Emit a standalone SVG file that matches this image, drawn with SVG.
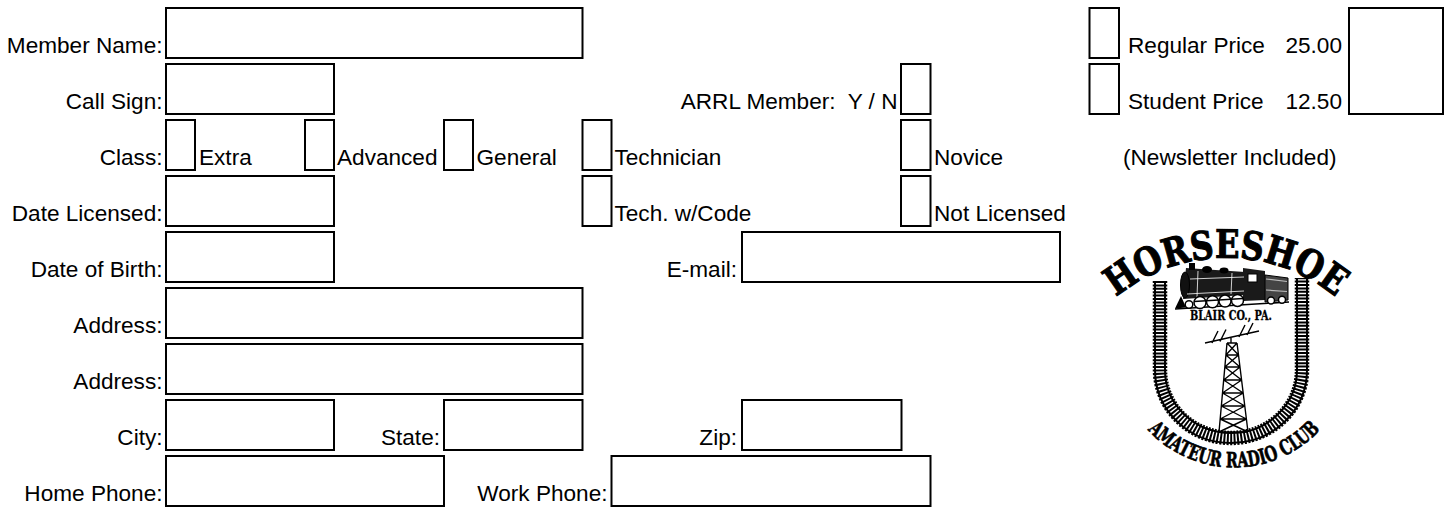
<svg xmlns="http://www.w3.org/2000/svg" width="1450" height="508" viewBox="0 0 1450 508">
<style>
.box{fill:none;stroke:#000;stroke-width:2}
.lbl{font-family:"Liberation Sans",Arial,Helvetica,sans-serif;font-size:22.6px;fill:#000}
.r{text-anchor:end}
.lt{font-family:"DejaVu Serif","Liberation Serif",serif;font-weight:bold;fill:#000;stroke:#000}
.ln{fill:none;stroke:#000}
</style>
<defs>
<path id="arcTop" d="M1110.2 302.4 A173 173 0 0 1 1341.8 302.4"/>
<path id="arcBot" d="M1137.75 417.4 A117.5 117.5 0 0 0 1330.25 417.4"/>
</defs>
<rect width="1450" height="508" fill="#fff"/>

<g id="member-name"><text class="lbl r" x="162.5" y="52.5">Member Name:</text><rect class="box" x="166" y="8" width="416.5" height="50"/></g>
<g id="call-sign"><text class="lbl r" x="162.5" y="108.5">Call Sign:</text><rect class="box" x="166" y="64" width="168" height="50"/></g>
<g id="arrl-member"><text class="lbl r" x="897.5" y="108.5" xml:space="preserve">ARRL Member:  Y / N</text><rect class="box" x="901" y="64" width="29.5" height="50"/></g>

<g id="class"><text class="lbl r" x="162.5" y="164.5">Class:</text></g>
<g id="class-extra"><rect class="box" x="166" y="120" width="29" height="50"/><text class="lbl" x="199" y="164.5">Extra</text></g>
<g id="class-advanced"><rect class="box" x="305" y="120" width="29" height="50"/><text class="lbl" x="337" y="164.5">Advanced</text></g>
<g id="class-general"><rect class="box" x="444" y="120" width="29" height="50"/><text class="lbl" x="476.5" y="164.5">General</text></g>
<g id="class-technician"><rect class="box" x="582.5" y="120" width="29" height="50"/><text class="lbl" x="614.5" y="164.5">Technician</text></g>
<g id="class-novice"><rect class="box" x="901" y="120" width="29.5" height="50"/><text class="lbl" x="934" y="164.5">Novice</text></g>
<g id="class-tech-code"><rect class="box" x="582.5" y="176" width="29" height="50"/><text class="lbl" x="614.5" y="220.5">Tech. w/Code</text></g>
<g id="class-not-licensed"><rect class="box" x="901" y="176" width="29.5" height="50"/><text class="lbl" x="934" y="220.5">Not Licensed</text></g>

<g id="date-licensed"><text class="lbl r" x="162.5" y="220.5">Date Licensed:</text><rect class="box" x="166" y="176" width="168" height="50"/></g>
<g id="date-of-birth"><text class="lbl r" x="162.5" y="276.5">Date of Birth:</text><rect class="box" x="166" y="232" width="168" height="50"/></g>
<g id="email"><text class="lbl r" x="737" y="276.5">E-mail:</text><rect class="box" x="742" y="232" width="318" height="50"/></g>
<g id="address-1"><text class="lbl r" x="162.5" y="332.5">Address:</text><rect class="box" x="166" y="288" width="416.5" height="50"/></g>
<g id="address-2"><text class="lbl r" x="162.5" y="388.5">Address:</text><rect class="box" x="166" y="344" width="416.5" height="50"/></g>
<g id="city"><text class="lbl r" x="162.5" y="444.5">City:</text><rect class="box" x="166" y="400" width="168" height="50"/></g>
<g id="state"><text class="lbl r" x="440" y="444.5">State:</text><rect class="box" x="444" y="400" width="138.5" height="50"/></g>
<g id="zip"><text class="lbl r" x="737" y="444.5">Zip:</text><rect class="box" x="742" y="400" width="159.5" height="50"/></g>
<g id="home-phone"><text class="lbl r" x="162.5" y="500.5">Home Phone:</text><rect class="box" x="166" y="456" width="278" height="50"/></g>
<g id="work-phone"><text class="lbl r" x="607.5" y="500.5">Work Phone:</text><rect class="box" x="611.5" y="456" width="319" height="50"/></g>

<g id="regular-price"><rect class="box" x="1089.5" y="8" width="29.5" height="50"/><text class="lbl" x="1128" y="52.5">Regular Price</text><text class="lbl r" x="1342" y="52.5">25.00</text></g>
<g id="student-price"><rect class="box" x="1089.5" y="64" width="29.5" height="50"/><text class="lbl" x="1128" y="108.5">Student Price</text><text class="lbl r" x="1342" y="108.5">12.50</text></g>
<g id="amount"><rect class="box" x="1349" y="8" width="94" height="106"/></g>
<g id="newsletter"><text class="lbl" x="1123" y="164.5">(Newsletter Included)</text></g>

<g id="logo">
  <g id="track">
    <path class="ln" d="M1160 281 L1160 370 A71 68 0 0 0 1302 370 L1302 278" stroke-width="14.5" stroke-dasharray="2 1.4"/>
    <path class="ln" d="M1155 281 L1155 370 A76 73 0 0 0 1307 370 L1307 278" stroke-width="2"/>
    <path class="ln" d="M1165 281 L1165 370 A66 63 0 0 0 1297 370 L1297 278" stroke-width="2"/>
  </g>
  <text class="lt" font-size="39" stroke-width="1.1"><textPath href="#arcTop" startOffset="50%" text-anchor="middle" textLength="238" lengthAdjust="spacingAndGlyphs">HORSESHOE</textPath></text>
  <text class="lt" font-size="21" stroke-width="0.7"><textPath href="#arcBot" startOffset="50%" text-anchor="middle" textLength="194" lengthAdjust="spacingAndGlyphs">AMATEUR RADIO CLUB</textPath></text>
  <text class="lt" font-size="12" stroke-width="0.3" x="1231" y="320" text-anchor="middle" textLength="82" lengthAdjust="spacingAndGlyphs">BLAIR CO., PA.</text>
  <g id="train">
    <path class="ln" d="M1175 309 L1289 302" stroke-width="1.6"/>
    <polygon points="1186,268 1245,272 1245,295 1183,299" fill="#1a1a1a"/>
    <ellipse cx="1185" cy="285" rx="4.5" ry="13" fill="#111" stroke="#000"/>
    <rect x="1189" y="263" width="6" height="7" fill="#000"/>
    <ellipse cx="1207" cy="269.5" rx="5" ry="3.5" fill="#000"/>
    <ellipse cx="1224" cy="270.5" rx="4.5" ry="3" fill="#000"/>
    <polygon points="1243,268 1265,271 1265,300 1243,301" fill="#1a1a1a"/>
    <rect x="1248" y="274" width="9" height="8" fill="#fff" stroke="#000"/>
    <polygon points="1265,275 1288,278 1288,300 1265,302" fill="#444" stroke="#000"/>
    <path d="M1266 279 L1287 281.5 M1266 290 L1287 291.5" stroke="#bbb" stroke-width="1.2"/>
    <path d="M1187 294 L1244 291 M1190 279 L1244 277 M1198 271 L1197 297 M1232 273 L1231 294" stroke="#fff" stroke-width="0.8" fill="none"/>
    <g fill="#fff" stroke="#000" stroke-width="1.5">
      <circle cx="1200" cy="302.5" r="6"/><circle cx="1212.5" cy="301.8" r="6"/><circle cx="1225" cy="301.1" r="6"/><circle cx="1237.5" cy="300.4" r="6"/>
      <circle cx="1189" cy="304.5" r="3.8"/><circle cx="1271" cy="300.5" r="3.5"/><circle cx="1282" cy="299.8" r="3.5"/>
    </g>
    <path d="M1194 301.5 L1243 298.5" stroke="#000" stroke-width="1.5"/>
    <polygon points="1175,308.5 1181,296 1186,307.5" fill="#000"/>
  </g>
  <g id="antenna" class="ln" stroke-width="1.4">
    <path d="M1205 343 L1259 331 M1212 343 L1218 331 M1220 341.5 L1226 329.5 M1239 337 L1245 325 M1247 335 L1253 323 M1231 343 V337.5"/>
    <path d="M1227 343 L1219 432 M1237 343 L1248 432 M1227 343H1237 M1225.9 355H1238.5 M1224.8 367H1240 M1223.7 380H1241.6 M1222.5 393H1243.2 M1221.3 406H1244.8 M1220.2 419H1246.4 M1219 432H1248 M1227 343L1238.5 355 M1237 343L1225.9 355 M1225.9 355L1240 367 M1238.5 355L1224.8 367 M1224.8 367L1241.6 380 M1240 367L1223.7 380 M1223.7 380L1243.2 393 M1241.6 380L1222.5 393 M1222.5 393L1244.8 406 M1243.2 393L1221.3 406 M1221.3 406L1246.4 419 M1244.8 406L1220.2 419 M1220.2 419L1248 432 M1246.4 419L1219 432"/>
  </g>
</g>
</svg>
